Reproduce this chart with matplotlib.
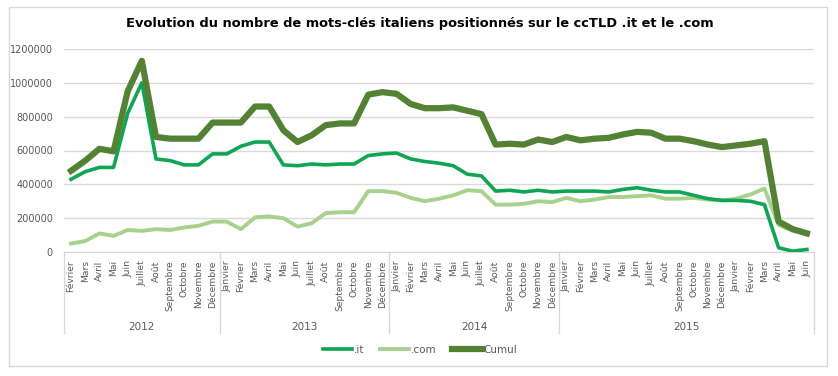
import matplotlib
matplotlib.use("Agg")
import matplotlib.pyplot as plt
import matplotlib.transforms as mtransforms
from matplotlib.patches import Rectangle

# mois (libellés tels qu'affichés, groupés par année)
mois_2012 = ["Février", "Mars", "Avril", "Mai", "Juin", "Juillet", "Août",
             "Septembre", "Octobre", "Novembre", "Décembre"]
mois_annee = ["Janvier", "Février", "Mars", "Avril", "Mai", "Juin", "Juillet",
              "Août", "Septembre", "Octobre", "Novembre", "Décembre"]
mois_2015 = mois_annee + ["Janvier", "Février", "Mars", "Avril", "Mai", "Juin"]
annees = ["2012", "2013", "2014", "2015"]
groupes = [mois_2012, mois_annee, mois_annee, mois_2015]

it = [430000, 475000, 500000, 500000, 820000, 1000000, 550000, 540000, 515000, 515000, 580000,
      580000, 625000, 650000, 650000, 515000, 510000, 520000, 515000, 520000, 520000, 570000, 580000,
      585000, 550000, 535000, 525000, 510000, 460000, 450000, 360000, 365000, 355000, 365000, 355000,
      360000, 360000, 360000, 355000, 370000, 380000, 365000, 355000, 355000, 335000, 315000, 305000,
      305000, 300000, 280000, 25000, 5000, 15000]
com = [50000, 65000, 110000, 95000, 130000, 125000, 135000, 130000, 145000, 155000, 180000,
       180000, 135000, 205000, 210000, 200000, 150000, 170000, 230000, 235000, 235000, 360000, 360000,
       350000, 320000, 300000, 315000, 335000, 365000, 360000, 280000, 280000, 285000, 300000, 295000,
       320000, 300000, 310000, 325000, 325000, 330000, 335000, 315000, 315000, 320000, 310000, 305000,
       315000, 340000, 375000, 160000, 125000, 110000]
cumul = [480000, 540000, 610000, 595000, 950000, 1130000, 680000, 670000, 670000, 670000, 765000,
         765000, 765000, 860000, 860000, 720000, 650000, 690000, 750000, 760000, 760000, 930000, 945000,
         935000, 875000, 850000, 850000, 855000, 835000, 815000, 635000, 640000, 635000, 665000, 650000,
         680000, 660000, 670000, 675000, 695000, 710000, 705000, 670000, 670000, 655000, 635000, 620000,
         630000, 640000, 655000, 180000, 135000, 110000]

labels = [m for g in groupes for m in g]
x = list(range(len(labels)))

W, H = 838, 376
fig = plt.figure(figsize=(W / 100, H / 100), dpi=100)
# cadre du graphique
fig.patches.append(Rectangle((9 / W, 10 / H), 818 / W, 359 / H, transform=fig.transFigure,
                             fill=False, edgecolor="#d9d9d9", linewidth=1))
ax = fig.add_axes([64 / W, 1 - 252 / H, 750 / W, 203 / H])

ax.plot(x, it, color="#0fa552", linewidth=2.6, label=".it", zorder=3)
ax.plot(x, com, color="#a9d18e", linewidth=2.8, label=".com", zorder=2)
ax.plot(x, cumul, color="#548235", linewidth=4.5, label="Cumul", zorder=4)

ax.set_xlim(-0.5, len(labels) - 0.5)
ax.set_ylim(0, 1200000)
ax.set_yticks(range(0, 1200001, 200000))
ax.set_yticklabels([str(v) for v in range(0, 1200001, 200000)], fontsize=7, color="#595959")
ax.yaxis.grid(True, color="#d9d9d9", linewidth=1)
ax.set_axisbelow(True)
ax.tick_params(axis="y", length=0, pad=8)
for s in ["top", "right", "left"]:
    ax.spines[s].set_visible(False)
ax.spines["bottom"].set_color("#d9d9d9")

ax.set_xticks(x)
ax.set_xticklabels(labels, rotation=90, fontsize=6.6, color="#595959", va="top")
ax.tick_params(axis="x", length=0, pad=6)

# axe à deux niveaux : séparateurs et années
trans = mtransforms.blended_transform_factory(ax.transData, ax.transAxes)
debut = -0.5
ax.plot([debut, debut], [0, -0.40], transform=trans, color="#d9d9d9", lw=1, clip_on=False)
for annee, g in zip(annees, groupes):
    fin = debut + len(g)
    ax.plot([fin, fin], [0, -0.40], transform=trans, color="#d9d9d9", lw=1, clip_on=False)
    ax.text((debut + fin) / 2, -0.37, annee, transform=trans, ha="center", va="center",
            fontsize=7.5, color="#595959")
    debut = fin

fig.text(420 / W, 1 - 23 / H, "Evolution du nombre de mots-clés italiens positionnés sur le ccTLD .it et le .com",
         ha="center", va="center", fontsize=9.4, fontweight="bold", color="black")

fig.legend(loc="center", bbox_to_anchor=(420 / W, 1 - 350 / H), ncol=3, frameon=False,
           fontsize=7.5, handlelength=2.8, handletextpad=0.2, columnspacing=1.5,
           labelcolor="#595959")

fig.savefig("out.png", dpi=100)
